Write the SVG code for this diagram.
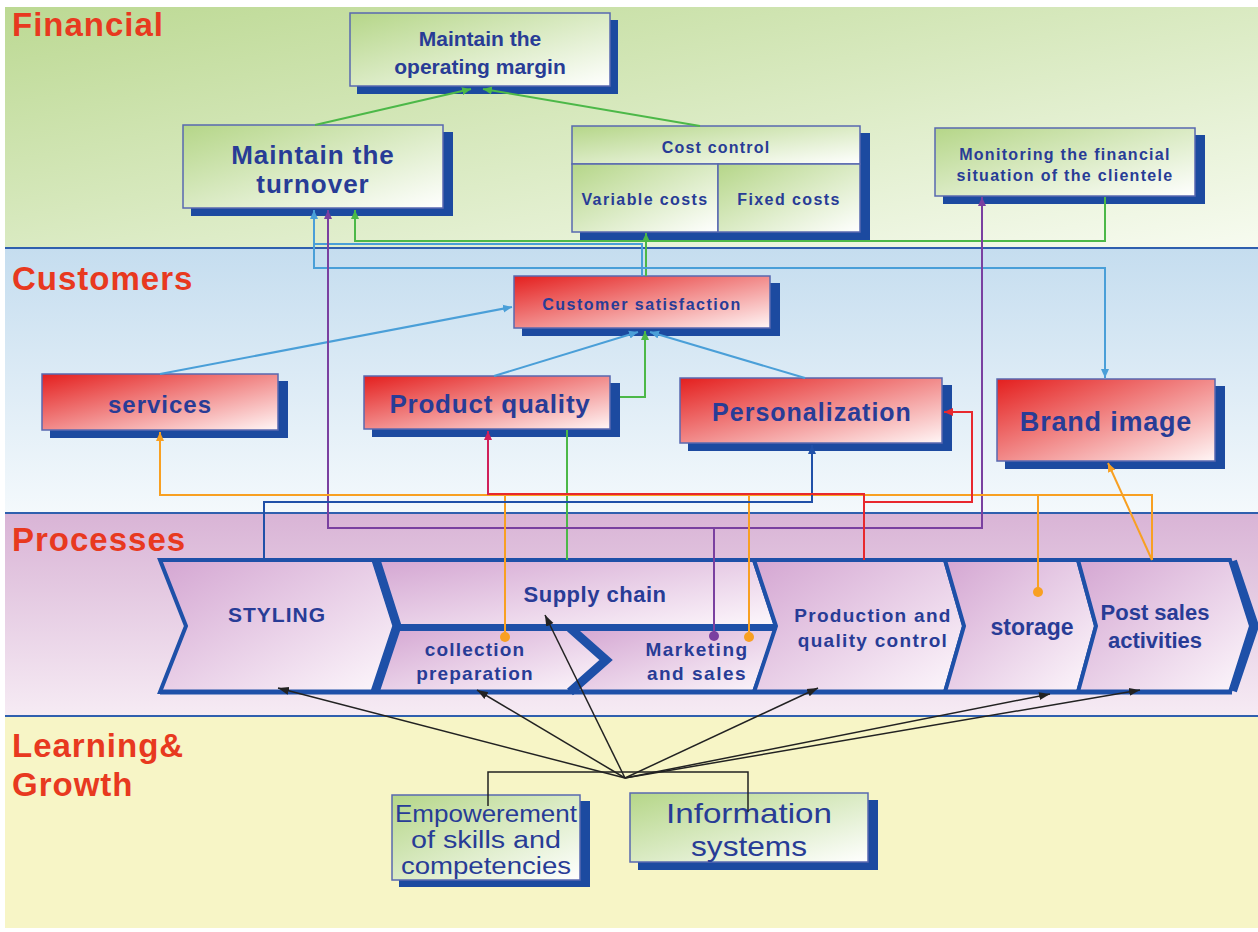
<svg xmlns="http://www.w3.org/2000/svg" width="1258" height="932" viewBox="0 0 1258 932">
<style>
.lane{font-family:"Liberation Sans",Arial,sans-serif;font-weight:bold;font-size:33px;fill:#e8391f;letter-spacing:1px}
.t{font-family:"Liberation Sans",Arial,sans-serif;font-weight:bold;fill:#283c96;text-anchor:middle}
.tr{font-family:"Liberation Sans",Arial,sans-serif;font-weight:normal;fill:#283c96;text-anchor:middle}
.box{stroke:#5868b0;stroke-width:1.5}
.shadow{fill:#1c4aa0}
.proc{fill:url(#gPurple);stroke:#1e50a8;stroke-width:4;stroke-linejoin:miter}
.c{fill:none;stroke-width:2}
.green{stroke:#4cb848}
.lblue{stroke:#4a9fd8}
.purple{stroke:#7a40a0}
.orange{stroke:#f8a022}
.red{stroke:#e8282e}
.dblue{stroke:#2050a8}
.black{stroke:#222;stroke-width:1.5}
</style>
<defs>
<linearGradient id="gGreen" x1="0" y1="0" x2="1" y2="1"><stop offset="0" stop-color="#b5d688"/><stop offset="1" stop-color="#ffffff"/></linearGradient>
<linearGradient id="gRed" x1="0" y1="0" x2="1" y2="1"><stop offset="0" stop-color="#e41f1e"/><stop offset="1" stop-color="#fff6f6"/></linearGradient>
<linearGradient id="gPurple" x1="0" y1="0" x2="1" y2="1"><stop offset="0" stop-color="#d4a6d2"/><stop offset="1" stop-color="#fdf8fc"/></linearGradient>
<linearGradient id="bFin" x1="0" y1="0" x2="1" y2="1"><stop offset="0" stop-color="#bcd993"/><stop offset="1" stop-color="#f7fbf0"/></linearGradient>
<linearGradient id="bCust" x1="0" y1="0" x2="0" y2="1"><stop offset="0" stop-color="#c5ddef"/><stop offset="1" stop-color="#f4f9fc"/></linearGradient>
<linearGradient id="bProc" x1="0" y1="0" x2="0" y2="1"><stop offset="0" stop-color="#d9b4d6"/><stop offset="1" stop-color="#f6ebf4"/></linearGradient>
<marker id="aGreen" markerUnits="userSpaceOnUse" markerWidth="10" markerHeight="10" refX="9" refY="5" orient="auto"><path d="M0,1 L9,5 L0,9 z" fill="#4cb848"/></marker>
<marker id="aLblue" markerUnits="userSpaceOnUse" markerWidth="10" markerHeight="10" refX="9" refY="5" orient="auto"><path d="M0,1 L9,5 L0,9 z" fill="#4a9fd8"/></marker>
<marker id="aPurple" markerUnits="userSpaceOnUse" markerWidth="10" markerHeight="10" refX="9" refY="5" orient="auto"><path d="M0,1 L9,5 L0,9 z" fill="#7a40a0"/></marker>
<marker id="aOrange" markerUnits="userSpaceOnUse" markerWidth="10" markerHeight="10" refX="9" refY="5" orient="auto"><path d="M0,1 L9,5 L0,9 z" fill="#f8a022"/></marker>
<marker id="aRed" markerUnits="userSpaceOnUse" markerWidth="10" markerHeight="10" refX="9" refY="5" orient="auto"><path d="M0,1 L9,5 L0,9 z" fill="#e8282e"/></marker>
<marker id="aCrimson" markerUnits="userSpaceOnUse" markerWidth="10" markerHeight="10" refX="9" refY="5" orient="auto"><path d="M0,1 L9,5 L0,9 z" fill="#d0205a"/></marker>
<marker id="aDblue" markerUnits="userSpaceOnUse" markerWidth="10" markerHeight="10" refX="9" refY="5" orient="auto"><path d="M0,1 L9,5 L0,9 z" fill="#2050a8"/></marker>
<marker id="aBlack" markerUnits="userSpaceOnUse" markerWidth="12" markerHeight="10" refX="11" refY="5" orient="auto"><path d="M0,1 L11,5 L0,9 z" fill="#222"/></marker>
</defs>

<!-- lanes -->
<g id="lanes">
<rect x="0" y="0" width="1258" height="932" fill="#ffffff"/>
<rect x="5" y="7" width="1253" height="241" fill="url(#bFin)"/>
<rect x="5" y="248" width="1253" height="265" fill="url(#bCust)"/>
<rect x="5" y="513" width="1253" height="203" fill="url(#bProc)"/>
<rect x="5" y="716" width="1253" height="212" fill="#f7f5c6"/>
<line x1="5" y1="248" x2="1258" y2="248" stroke="#2f5fae" stroke-width="2"/>
<line x1="5" y1="513" x2="1258" y2="513" stroke="#2f5fae" stroke-width="2"/>
<line x1="5" y1="716" x2="1258" y2="716" stroke="#2f5fae" stroke-width="2"/>
<text class="lane" x="12" y="36">Financial</text>
<text class="lane" x="12" y="290">Customers</text>
<text class="lane" x="12" y="551">Processes</text>
<text class="lane" x="12" y="757">Learning&amp;</text>
<text class="lane" x="12" y="796">Growth</text>
</g>

<!-- processes -->
<g id="processes">
<polygon class="proc" points="160,560 374,560 395,626 374,692 160,692 186,626"/>
<polygon class="proc" points="376,560 754,560 776,627 396,627"/>
<polygon class="proc" points="396,629 571,629 606,660 571,692 374,692"/>
<polygon class="proc" points="571,629 776,629 754,692 571,692 606,660"/>
<polygon class="proc" points="754,560 945,560 964,626 945,692 754,692 776,626"/>
<polygon class="proc" points="945,560 1078,560 1096,626 1078,692 945,692 964,626"/>
<polygon class="proc" points="1078,560 1230,560 1251,626 1230,692 1078,692 1096,626"/>
<polyline points="376,560 397,626 375,692" fill="none" stroke="#1e50a8" stroke-width="9"/>
<line x1="396" y1="627" x2="777" y2="627" stroke="#1e50a8" stroke-width="6"/>
<polyline points="570,628 606,660 570,692" fill="none" stroke="#1e50a8" stroke-width="9"/>
<polyline points="1233,561 1255,626 1233,691" fill="none" stroke="#1e50a8" stroke-width="8"/>
<line x1="160" y1="692" x2="1232" y2="692" stroke="#1e50a8" stroke-width="5"/>
<text class="t" x="277" y="622" font-size="21" letter-spacing="1">STYLING</text>
<text class="t" x="595" y="602" font-size="22" letter-spacing="0.5">Supply chain</text>
<text class="t" x="475" y="656" font-size="19" letter-spacing="1.2">collection</text>
<text class="t" x="475" y="680" font-size="19" letter-spacing="1.2">preparation</text>
<text class="t" x="697" y="656" font-size="19" letter-spacing="1.5">Marketing</text>
<text class="t" x="697" y="680" font-size="19" letter-spacing="1.5">and sales</text>
<text class="t" x="873" y="622" font-size="19" letter-spacing="1.3">Production and</text>
<text class="t" x="873" y="647" font-size="19" letter-spacing="1.3">quality control</text>
<text class="t" x="1032" y="635" font-size="23">storage</text>
<text class="t" x="1155" y="620" font-size="22">Post sales</text>
<text class="t" x="1155" y="648" font-size="22">activities</text>
</g>

<!-- financial nodes -->
<g id="n-margin">
<rect class="shadow" x="357" y="20" width="261" height="74"/>
<rect class="box" x="350" y="13" width="260" height="73" fill="url(#gGreen)"/>
<text class="t" x="480" y="46" font-size="21">Maintain the</text>
<text class="t" x="480" y="74" font-size="21">operating margin</text>
</g>
<g id="n-turnover">
<rect class="shadow" x="191" y="132" width="262" height="84"/>
<rect class="box" x="183" y="125" width="260" height="83" fill="url(#gGreen)"/>
<text class="t" x="313" y="164" font-size="26" letter-spacing="1">Maintain the</text>
<text class="t" x="313" y="193" font-size="26" letter-spacing="1">turnover</text>
</g>
<g id="n-cost">
<rect class="shadow" x="580" y="133" width="290" height="107"/>
<rect class="box" x="572" y="126" width="288" height="38" fill="url(#gGreen)"/>
<rect class="box" x="572" y="164" width="146" height="68" fill="url(#gGreen)"/>
<rect class="box" x="718" y="164" width="142" height="68" fill="url(#gGreen)"/>
<text class="t" x="716" y="153" font-size="16" letter-spacing="1.2">Cost control</text>
<text class="t" x="645" y="205" font-size="16" letter-spacing="1.4">Variable costs</text>
<text class="t" x="789" y="205" font-size="16" letter-spacing="1.4">Fixed costs</text>
</g>
<g id="n-monitor">
<rect class="shadow" x="943" y="135" width="262" height="69"/>
<rect class="box" x="935" y="128" width="260" height="68" fill="url(#gGreen)"/>
<text class="t" x="1065" y="160" font-size="16" letter-spacing="1.3">Monitoring the financial</text>
<text class="t" x="1065" y="181" font-size="16" letter-spacing="1.3">situation of the clientele</text>
</g>

<!-- customer nodes -->
<g id="n-satisfaction">
<rect class="shadow" x="522" y="283" width="258" height="53"/>
<rect class="box" x="514" y="276" width="256" height="52" fill="url(#gRed)"/>
<text class="t" x="642" y="310" font-size="16" letter-spacing="1.5">Customer satisfaction</text>
</g>
<g id="n-services">
<rect class="shadow" x="50" y="381" width="238" height="57"/>
<rect class="box" x="42" y="374" width="236" height="56" fill="url(#gRed)"/>
<text class="t" x="160" y="413" font-size="24" letter-spacing="1">services</text>
</g>
<g id="n-quality">
<rect class="shadow" x="372" y="383" width="248" height="54"/>
<rect class="box" x="364" y="376" width="246" height="53" fill="url(#gRed)"/>
<text class="t" x="490" y="413" font-size="26" letter-spacing="0.8">Product quality</text>
</g>
<g id="n-personal">
<rect class="shadow" x="688" y="385" width="264" height="66"/>
<rect class="box" x="680" y="378" width="262" height="65" fill="url(#gRed)"/>
<text class="t" x="812" y="421" font-size="25" letter-spacing="1">Personalization</text>
</g>
<g id="n-brand">
<rect class="shadow" x="1005" y="386" width="220" height="83"/>
<rect class="box" x="997" y="379" width="218" height="82" fill="url(#gRed)"/>
<text class="t" x="1106" y="431" font-size="27" letter-spacing="0.8">Brand image</text>
</g>

<!-- learning nodes -->
<g id="n-empower">
<rect class="shadow" x="399" y="801" width="191" height="86"/>
<rect class="box" x="392" y="795" width="188" height="85" fill="url(#gGreen)"/>
<text class="tr" x="486" y="822" font-size="23" textLength="182" lengthAdjust="spacingAndGlyphs">Empowerement</text>
<text class="tr" x="486" y="848" font-size="23" textLength="150" lengthAdjust="spacingAndGlyphs">of skills and</text>
<text class="tr" x="486" y="874" font-size="23" textLength="170" lengthAdjust="spacingAndGlyphs">competencies</text>
</g>
<g id="n-info">
<rect class="shadow" x="638" y="800" width="240" height="70"/>
<rect class="box" x="630" y="793" width="238" height="69" fill="url(#gGreen)"/>
<text class="tr" x="749" y="823" font-size="28" textLength="166" lengthAdjust="spacingAndGlyphs">Information</text>
<text class="tr" x="749" y="856" font-size="28" textLength="116" lengthAdjust="spacingAndGlyphs">systems</text>
</g>

<!-- connectors -->
<g id="connectors">
<path class="c green" d="M315,125 L471,89" marker-end="url(#aGreen)"/>
<path class="c green" d="M700,126 L483,89" marker-end="url(#aGreen)"/>
<path class="c green" d="M1105,197 L1105,241 L355,241 L355,210" marker-end="url(#aGreen)"/>
<path class="c green" d="M646,276 L646,233" marker-end="url(#aGreen)"/>
<path class="c green" d="M620,397 L645,397 L645,331" marker-end="url(#aGreen)"/>
<path class="c green" d="M567,430 L567,560"/>

<path class="c lblue" d="M642,276 L642,244 L314,244 L314,210" marker-end="url(#aLblue)"/>
<path class="c lblue" d="M314,244 L314,268 L1105,268 L1105,378" marker-end="url(#aLblue)"/>
<path class="c lblue" d="M160,374 L512,307" marker-end="url(#aLblue)"/>
<path class="c lblue" d="M494,376 L638,332" marker-end="url(#aLblue)"/>
<path class="c lblue" d="M805,378 L650,332" marker-end="url(#aLblue)"/>

<path class="c purple" d="M714,528 L328,528 L328,210" marker-end="url(#aPurple)"/>
<path class="c purple" d="M714,528 L982,528 L982,197" marker-end="url(#aPurple)"/>
<path class="c purple" d="M714,528 L714,636"/>
<circle cx="714" cy="636" r="5" fill="#7a40a0"/>

<path class="c orange" d="M1152,560 L1152,495 L160,495 L160,432" marker-end="url(#aOrange)"/>
<path class="c orange" d="M505,495 L505,637"/>
<path class="c orange" d="M749,495 L749,637"/>
<path class="c orange" d="M1038,495 L1038,592"/>
<circle cx="505" cy="637" r="5" fill="#f8a022"/>
<circle cx="749" cy="637" r="5" fill="#f8a022"/>
<circle cx="1038" cy="592" r="5" fill="#f8a022"/>
<path class="c orange" d="M1152,560 L1108,463" marker-end="url(#aOrange)"/>

<path class="c dblue" d="M264,560 L264,502 L812,502 L812,445" marker-end="url(#aDblue)"/>

<path class="c red" d="M864,560 L864,494 L488,494"/>
<path class="c" stroke="#d0205a" stroke-width="3" d="M488,495 L488,431" marker-end="url(#aCrimson)"/>
<path class="c red" d="M864,502 L972,502 L972,412 L944,412" marker-end="url(#aRed)"/>

<path class="c black" d="M625,778 L278,688" marker-end="url(#aBlack)"/>
<path class="c black" d="M625,778 L477,690" marker-end="url(#aBlack)"/>
<path class="c black" d="M625,778 L545,615" marker-end="url(#aBlack)"/>
<path class="c black" d="M625,778 L818,688" marker-end="url(#aBlack)"/>
<path class="c black" d="M625,778 L1050,694" marker-end="url(#aBlack)"/>
<path class="c black" d="M625,778 L1140,690" marker-end="url(#aBlack)"/>
<path class="c black" d="M488,806 L488,772 L748,772 L748,812"/>
</g>
</svg>
